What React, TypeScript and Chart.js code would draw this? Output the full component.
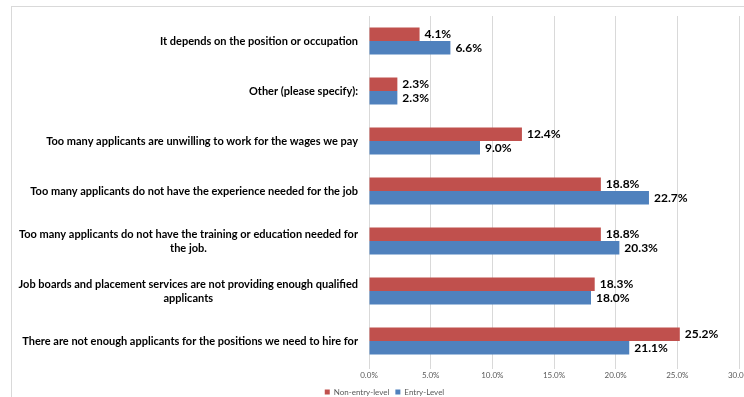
import React, { useEffect, useRef } from "react";
import { Chart, registerables } from "chart.js";

Chart.register(...registerables);

const categories: (string | string[])[] = [
  "It depends on the position or occupation",
  "Other (please specify):",
  "Too many applicants are unwilling to work for the wages we pay",
  "Too many applicants do not have the experience needed for the job",
  ["Too many applicants do not have the training or education needed for", "the job."],
  ["Job boards and placement services are not providing enough qualified", "applicants"],
  "There are not enough applicants for the positions we need to hire for",
];

const nonEntryLevel = [4.1, 2.3, 12.4, 18.8, 18.8, 18.3, 25.2];
const entryLevel = [6.6, 2.3, 9.0, 22.7, 20.3, 18.0, 21.1];

const seriesNames = ["Non-entry-level", "Entry-Level"];
const seriesColors = ["#C0504D", "#4F81BD"];

const xMax = 30;
const xStep = 5;

const FONT = "Lato, 'Open Sans', sans-serif";

const framePlugin = {
  id: "frame",
  beforeDraw(chart: any) {
    const ctx = chart.ctx;
    ctx.save();
    ctx.fillStyle = "#ffffff";
    ctx.fillRect(0, 0, chart.width, chart.height);
    ctx.fillStyle = "#d9d9d9";
    ctx.fillRect(11, 6, chart.width - 11, 1);
    ctx.fillRect(11, 6, 1, chart.height - 6);
    ctx.restore();
  },
};

const legendFitPlugin = {
  id: "legendFit",
  beforeLayout(chart: any) {
    const lg = chart.legend;
    if (lg && !lg.__patched) {
      const orig = lg.fit.bind(lg);
      lg.fit = function () {
        orig();
        this.height = 15;
      };
      lg.__patched = true;
    }
  },
  afterLayout(chart: any) {
    const lg = chart.legend;
    if (!lg) return;
    const dx = 15;
    lg.left += dx;
    lg.right += dx;
  },
};

const categoryLabelPlugin = {
  id: "catLabels",
  afterDraw(chart: any) {
    const ctx = chart.ctx;
    const yScale = chart.scales.y;
    const rightX = chart.chartArea.left - 11;
    const lineH = 14;
    ctx.save();
    ctx.font = `bold 11px ${FONT}`;
    ctx.fillStyle = "#000000";
    ctx.textBaseline = "middle";
    ctx.textAlign = "center";
    categories.forEach((lab, i) => {
      const lines = Array.isArray(lab) ? lab : [lab];
      const w = Math.max(...lines.map((l) => ctx.measureText(l).width));
      const cx = rightX - w / 2;
      const yc = yScale.getPixelForValue(i);
      lines.forEach((l, j) => {
        ctx.fillText(l, cx, yc + (j - (lines.length - 1) / 2) * lineH);
      });
    });
    ctx.restore();
  },
};

const valueLabelPlugin = {
  id: "valueLabels",
  afterDatasetsDraw(chart: any) {
    const ctx = chart.ctx;
    ctx.save();
    ctx.font = `bold 12px ${FONT}`;
    ctx.fillStyle = "#000000";
    ctx.textBaseline = "middle";
    ctx.textAlign = "left";
    chart.data.datasets.forEach((ds: any, di: number) => {
      const meta = chart.getDatasetMeta(di);
      meta.data.forEach((bar: any, i: number) => {
        const v = ds.data[i];
        ctx.fillText(v.toFixed(1) + "%", bar.x + 5, bar.y);
      });
    });
    ctx.restore();
  },
};

export default function App() {
  const ref = useRef<HTMLCanvasElement | null>(null);

  useEffect(() => {
    if (!ref.current) return;
    const chart = new Chart(ref.current, {
      type: "bar",
      data: {
        labels: categories.map((c) => (Array.isArray(c) ? c.join(" ") : c)),
        datasets: [
          {
            label: seriesNames[0],
            data: nonEntryLevel,
            backgroundColor: seriesColors[0],
            categoryPercentage: 0.54,
            barPercentage: 1,
          },
          {
            label: seriesNames[1],
            data: entryLevel,
            backgroundColor: seriesColors[1],
            categoryPercentage: 0.54,
            barPercentage: 1,
          },
        ],
      },
      options: {
        indexAxis: "y",
        responsive: false,
        animation: false,
        layout: { padding: { top: 16, right: 5, left: 0, bottom: 0 } },
        scales: {
          x: {
            min: 0,
            max: xMax,
            grid: { color: "#d9d9d9", tickLength: 3, drawTicks: true },
            border: { display: false },
            ticks: {
              stepSize: xStep,
              color: "#595959",
              font: { family: FONT, size: 8 },
              padding: 2,
              callback: (v: any) => Number(v).toFixed(1) + "%",
            },
            afterFit: (scale: any) => {
              scale.paddingRight = 0;
              scale.paddingLeft = 0;
              scale.height = 16;
            },
          },
          y: {
            grid: { display: false },
            border: { display: false },
            ticks: { display: false },
            afterFit: (scale: any) => {
              scale.width = 369;
            },
          },
        },
        plugins: {
          legend: {
            position: "bottom",
            labels: {
              boxWidth: 5,
              boxHeight: 5,
              padding: 6,
              color: "#595959",
              font: { family: FONT, size: 8 },
            },
          },
          tooltip: { enabled: false },
        },
      },
      plugins: [framePlugin, legendFitPlugin, categoryLabelPlugin, valueLabelPlugin],
    });
    return () => chart.destroy();
  }, []);

  return (
    <div style={{ position: "absolute", left: 0, top: 0, width: 744, height: 397 }}>
      <canvas ref={ref} width={744} height={397} style={{ display: "block" }} />
    </div>
  );
}
